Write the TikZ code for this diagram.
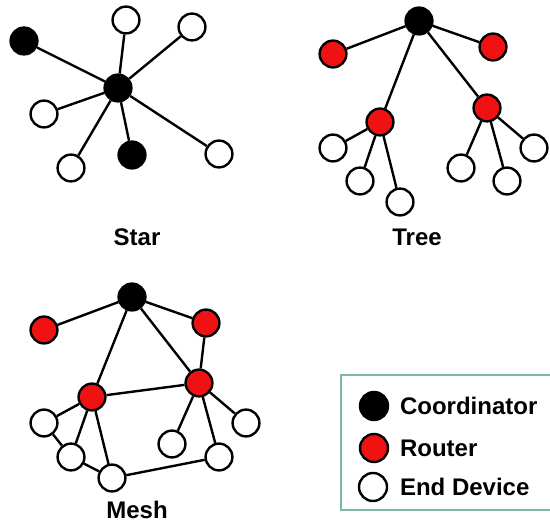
\documentclass[tikz,border=0pt]{standalone}
\usepackage{fontspec}
\setmainfont{Liberation Sans}
\usepackage{tikz}
\usetikzlibrary{positioning}
\definecolor{routerred}{RGB}{240,18,18}
\definecolor{legendline}{RGB}{125,182,170}

\begin{document}
\begin{tikzpicture}[x=0.5pt, y=-0.5pt,
    coordnode/.style={circle, draw=black, fill=black, line width=1.2pt, minimum size=13.4pt, inner sep=0pt},
    routernode/.style={circle, draw=black, fill=routerred, line width=1.2pt, minimum size=13.4pt, inner sep=0pt},
    endnode/.style={circle, draw=black, fill=white, line width=1.2pt, minimum size=13.4pt, inner sep=0pt},
    link/.style={draw=black, line width=1.2pt},
    caption/.style={font=\fontsize{12}{14}\selectfont\bfseries}
    ]
        \useasboundingbox (0,0) rectangle (550,522);

        %Star nodes
        \node[coordnode] (s0) at (118,88) {};
        \node[coordnode] (sA) at (24,41) {};
        \node[endnode]   (sB) at (126,20) {};
        \node[endnode]   (sC) at (192,27) {};
        \node[endnode]   (sD) at (44,114) {};
        \node[endnode]   (sE) at (71,168) {};
        \node[coordnode] (sF) at (132,155) {};
        \node[endnode]   (sG) at (219,154) {};
        \node[caption]   (sL) at (137,237) {Star};

        %Star lines
        \foreach \n in {sA,sB,sC,sD,sE,sF,sG}
            \draw[link] (s0) -- (\n);

        %Tree nodes
        \node[endnode]    (tLa) at (333,148) {};
        \node[endnode]    (tLb) at (360,181) {};
        \node[endnode]    (tLc) at (400,202) {};
        \node[endnode]    (tRa) at (461,168) {};
        \node[endnode]    (tRb) at (507,181) {};
        \node[endnode]    (tRc) at (534,148) {};
        \node[coordnode]  (t0)  at (419,21) {};
        \node[routernode] (tA)  at (333,54) {};
        \node[routernode] (tB)  at (493,47) {};
        \node[routernode] (tL)  at (380,122) {};
        \node[routernode] (tR)  at (487,108) {};
        \node[caption]    (tT)  at (417,237) {Tree};

        %Tree lines
        \foreach \n in {tA,tB,tL,tR}
            \draw[link] (t0) -- (\n);
        \foreach \n in {tLa,tLb,tLc}
            \draw[link] (tL) -- (\n);
        \foreach \n in {tRa,tRb,tRc}
            \draw[link] (tR) -- (\n);

        %Mesh nodes
        \node[coordnode]  (m0)  at (132,297) {};
        \node[routernode] (mA)  at (44,330) {};
        \node[routernode] (mB)  at (206,323) {};
        \node[routernode] (mL)  at (92,397) {};
        \node[routernode] (mR)  at (199,383) {};
        \node[endnode]    (mLa) at (44,423) {};
        \node[endnode]    (mLb) at (71,457) {};
        \node[endnode]    (mLc) at (112,478) {};
        \node[endnode]    (mRa) at (172,444) {};
        \node[endnode]    (mRb) at (219,457) {};
        \node[endnode]    (mRc) at (246,423) {};
        \node[caption]    (mT)  at (137,510) {Mesh};

        %Mesh lines
        \foreach \n in {mA,mB,mL,mR}
            \draw[link] (m0) -- (\n);
        \draw[link] (mB) -- (mR);
        \draw[link] (mL) -- (mR);
        \foreach \n in {mLa,mLb,mLc}
            \draw[link] (mL) -- (\n);
        \foreach \n in {mRa,mRb,mRc}
            \draw[link] (mR) -- (\n);
        \draw[link] (mLa) -- (mLb);
        \draw[link] (mLb) -- (mLc);
        \draw[link] (mLc) -- (mRb);

        %Legend
        \draw[draw=legendline, line width=1.4pt, fill=white] (341,375) rectangle (560,510);
        \node[coordnode, minimum size=14pt]  (kC) at (374,406) {};
        \node[routernode, minimum size=14pt] (kR) at (374,448) {};
        \node[endnode, minimum size=14pt]    (kE) at (373,487) {};
        \node[caption, anchor=west] (kCt) at (393,406) {Coordinator};
        \node[caption, anchor=west] (kRt) at (393,448) {Router};
        \node[caption, anchor=west] (kEt) at (393,487) {End Device};
\end{tikzpicture}
\end{document}
